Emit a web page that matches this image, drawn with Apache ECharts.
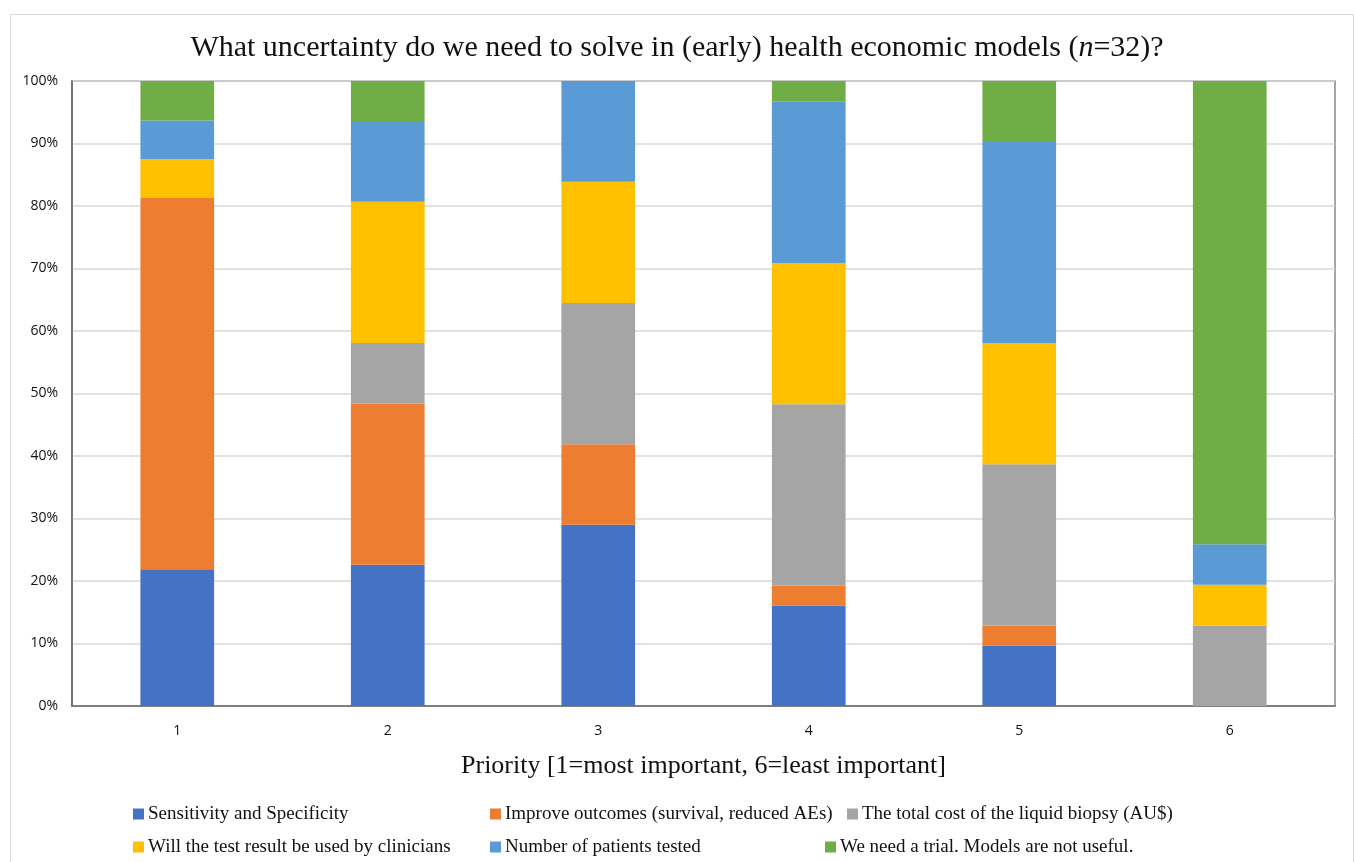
<!DOCTYPE html>
<html><head><meta charset="utf-8">
<script src="https://cdn.jsdelivr.net/npm/echarts@6/dist/echarts.min.js"></script>
<style>html,body{margin:0;padding:0;background:#fff}#c{width:1354px;height:862px}</style>
</head><body><div id="c"></div>
<script>
const categories = ['1','2','3','4','5','6'];
const seriesNames = ['Sensitivity and Specificity','Improve outcomes (survival, reduced AEs)','The total cost of the liquid biopsy (AU$)','Will the test result be used by clinicians','Number of patients tested','We need a trial. Models are not useful.'];
const sensitivity = [21.9, 22.6, 29.0, 16.1, 9.7, 0];
const outcomes    = [59.4, 25.8, 12.9, 3.2, 3.2, 0];
const totalCost   = [0, 9.7, 22.6, 29.0, 25.8, 12.9];
const clinicians  = [6.2, 22.6, 19.4, 22.6, 19.4, 6.5];
const patients    = [6.2, 12.9, 16.1, 25.8, 32.3, 6.5];
const trial       = [6.3, 6.4, 0, 3.3, 9.6, 74.2];
const yTicks = ['0%','10%','20%','30%','40%','50%','60%','70%','80%','90%','100%'];
const colors = ['#4472C4','#ED7D31','#A5A5A5','#FFC000','#5B9BD5','#70AD47'];
const allData = [sensitivity, outcomes, totalCost, clinicians, patients, trial];

const serif = '"Liberation Serif", "DejaVu Serif", serif';
const legendPos = [[133,814],[490,814],[847,814],[133,847],[490,847],[825,847]];

const chart = echarts.init(document.getElementById('c'));
chart.setOption({
  animation: false,
  color: colors,
  title: {
    text: '{a|What uncertainty do we need to solve in (early) health economic models (}{i|n}{a|=32)?}',
    left: 'center', top: 28,
    textStyle: { fontWeight: 'normal', rich: {
      a: { fontFamily: serif, fontSize: 30, color: '#111', fontWeight: 'normal' },
      i: { fontFamily: serif, fontSize: 30, color: '#111', fontStyle: 'italic', fontWeight: 'normal' }
    }}
  },
  graphic: [{ type: 'rect', left: 8, top: 12, shape: { width: 1343, height: 860 },
    style: { fill: 'none', stroke: '#d9d9d9', lineWidth: 1 }, silent: true }],
  legend: legendPos.map((p, i) => ({
    data: [seriesNames[i]], left: p[0] - 5, top: p[1] - 15, itemWidth: 11, itemHeight: 11, itemGap: 4,
    icon: 'rect', selectedMode: false,
    textStyle: { fontFamily: serif, fontSize: 19, lineHeight: 20, color: '#111', padding: [0,0,0,-1] }
  })),
  grid: { left: 72, right: 19, top: 81, bottom: 156, show: true, borderColor: '#888', borderWidth: 1.5, containLabel: false },
  xAxis: {
    type: 'category', data: categories,
    name: 'Priority [1=most important, 6=least important]', nameLocation: 'middle', nameGap: 47,
    nameTextStyle: { fontFamily: serif, fontSize: 26, color: '#111' },
    axisLine: { lineStyle: { color: '#666', width: 1.5 } },
    axisTick: { show: false },
    axisLabel: { fontFamily: '"Open Sans", sans-serif', fontSize: 14, color: '#111', margin: 18 }
  },
  yAxis: {
    type: 'value', min: 0, max: 100, interval: 10,
    axisLine: { show: true, lineStyle: { color: '#666', width: 1.5 } },
    axisTick: { show: false },
    splitLine: { lineStyle: { color: '#d9d9d9', width: 1.5 } },
    axisLabel: { fontFamily: '"Open Sans", sans-serif', fontSize: 14, color: '#111', margin: 14,
      formatter: v => yTicks[Math.round(v / 10)] }
  },
  series: allData.map((d, i) => ({
    name: seriesNames[i], type: 'bar', stack: 'total', data: d, barWidth: '35%',
    itemStyle: { color: colors[i] }
  }))
});
</script></body></html>
